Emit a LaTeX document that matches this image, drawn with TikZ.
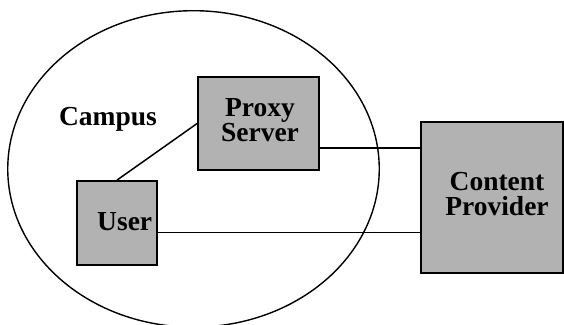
\documentclass[tikz,border=0pt]{standalone}
\usepackage{fontspec}
\setmainfont{Liberation Serif}
\begin{document}
\begin{tikzpicture}[x=1pt,y=-1pt,
  box/.style={draw=black,line width=1.8pt,fill=black!30,inner sep=0pt},
  lbl/.style={font=\bfseries\fontsize{27.5}{25}\selectfont,align=center,inner sep=0pt},
  wire/.style={draw=black,line width=1.5pt}]
\useasboundingbox (0,0) rectangle (564,324);

% campus boundary
\draw[line width=1.4pt] (193.5,168.9) ellipse [x radius=185.75pt, y radius=158.2pt];

% boxes
\node[box,minimum width=121pt,minimum height=93pt] (proxy) at (258.5,123.5) {};
\node[box,minimum width=80pt,minimum height=84pt] (user) at (117,223) {};
\node[box,minimum width=142pt,minimum height=151pt] (content) at (492,197.5) {};

% labels
\node[lbl,anchor=base] (campus) at (108,125.7) {Campus};
\node[lbl] (proxytext) at (260,119.7) {Proxy\\Server};
\node[lbl,anchor=base] (usertext) at (124.7,230.7) {User};
\node[lbl] (contenttext) at (497,193.8) {Content\\Provider};

% connections
\coordinate (pc) at ([yshift=-24.5pt]proxy.east);
\coordinate (uc) at ([yshift=-9.3pt]user.east);
\draw[wire] (user.north) -- (proxy.west);
\draw[wire] (pc) -- (pc -| content.west);
\draw[wire] (uc) -- (uc -| content.west);
\end{tikzpicture}
\end{document}
